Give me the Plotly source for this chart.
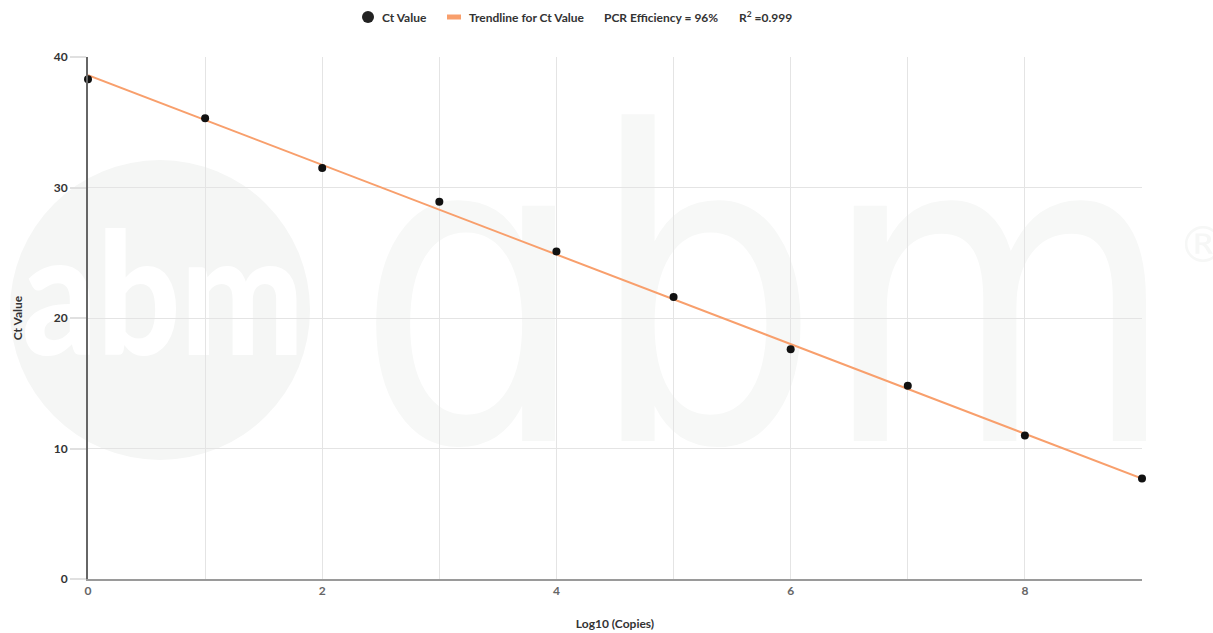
import base64
import plotly.graph_objects as go

log_copies = [0, 1, 2, 3, 4, 5, 6, 7, 8, 9]
ct_values = [38.3, 35.3, 31.5, 28.9, 25.1, 21.6, 17.6, 14.8, 11.0, 7.7]
trend_x = [0, 9]
trend_y = [38.6, 7.7]
efficiency_text = "PCR Efficiency = 96%"
r2_text = "R<sup>2</sup> =0.999"

FONT = "Lato"
W, H = 1213, 633
L, R, T, B = 88, 71, 57, 54
PW, PH = W - L - R, H - T - B


def px(xp):
    return (xp - L) / PW


def py(yp):
    return (H - B - yp) / PH


fig = go.Figure()
fig.add_trace(go.Scatter(
    x=trend_x, y=trend_y, mode="lines", name="Trendline for Ct Value",
    line=dict(color="#f89f6c", width=2), hoverinfo="skip", showlegend=False))
fig.add_trace(go.Scatter(
    x=log_copies, y=ct_values, mode="markers", name="Ct Value",
    marker=dict(color="#111111", size=8), showlegend=False, cliponaxis=False))

# faint background watermark (drawn below grid)
svg = f'''<svg xmlns="http://www.w3.org/2000/svg" width="{W}" height="{H}" viewBox="0 0 {W} {H}">
<circle cx="160" cy="310" r="150" fill="#f5f6f5"/>
<text x="22" y="355" font-family="Lato" font-weight="900" font-size="170" fill="#ffffff" textLength="282" lengthAdjust="spacingAndGlyphs">abm</text>
<text x="356" y="441" font-family="DejaVu Sans" font-weight="400" font-size="430" fill="#f7f8f7" textLength="821" lengthAdjust="spacingAndGlyphs">&#593;bm</text>
<text x="1178" y="262" font-family="DejaVu Sans" font-size="50" fill="#f6f7f6">&#174;</text>
</svg>'''
src = "data:image/svg+xml;base64," + base64.b64encode(svg.encode("utf-8")).decode()
fig.add_layout_image(dict(source=src, xref="paper", yref="paper",
                          x=px(0), y=py(0), sizex=W / PW, sizey=H / PH,
                          xanchor="left", yanchor="top", sizing="stretch", layer="below"))

# manual legend
ly = 17
fig.add_shape(type="circle", xref="paper", yref="paper",
              x0=px(362), x1=px(374), y0=py(ly + 6), y1=py(ly - 6),
              fillcolor="#222222", line=dict(width=0))
fig.add_shape(type="rect", xref="paper", yref="paper",
              x0=px(447), x1=px(461), y0=py(ly + 2.5), y1=py(ly - 2.5),
              fillcolor="#f89f6c", line=dict(width=0))
legend_font = dict(family=FONT, size=12, color="#333333", weight="bold")
for xpos, txt in [(380, "Ct Value"), (467, "Trendline for Ct Value"),
                  (602, efficiency_text), (737, r2_text)]:
    fig.add_annotation(xref="paper", yref="paper", x=px(xpos), y=py(ly),
                       xanchor="left", yanchor="middle", text=txt,
                       showarrow=False, font=legend_font)

fig.update_layout(
    width=W, height=H,
    margin=dict(l=L, r=R, t=T, b=B, autoexpand=False),
    paper_bgcolor="white", plot_bgcolor="rgba(0,0,0,0)",
    font=dict(family=FONT, color="#333333"),
    showlegend=False,
    xaxis=dict(range=[0, 9], tickvals=[0, 2, 4, 6, 8],
               showgrid=True, gridcolor="#e4e4e4", gridwidth=1,
               minor=dict(dtick=1, showgrid=True, gridcolor="#e4e4e4", gridwidth=1),
               zeroline=False,
               showline=True, linecolor="#9a9a9a", linewidth=1.5,
               tickfont=dict(family=FONT, size=12, color="#666666", weight="bold"), ticks="",
               title=dict(text="Log10 (Copies)", font=dict(family=FONT, size=12, color="#333333", weight="bold"),
                          standoff=22)),
    yaxis=dict(range=[0, 40], tickvals=[0, 10, 20, 30, 40],
               showgrid=True, gridcolor="#e4e4e4", gridwidth=1,
               zeroline=False, showline=True, linecolor="#666666", linewidth=2,
               ticks="outside", ticklen=16, tickcolor="#e0e0e0", tickwidth=1.5,
               tickfont=dict(family=FONT, size=12, color="#333333", weight="bold"),
               title=dict(text="Ct Value", font=dict(family=FONT, size=12, color="#333333", weight="bold"),
                          standoff=28)),
)

fig.write_html("out.html", config={"displayModeBar": False},
               post_script="document.body.style.margin='0';document.body.style.overflow='hidden';")
